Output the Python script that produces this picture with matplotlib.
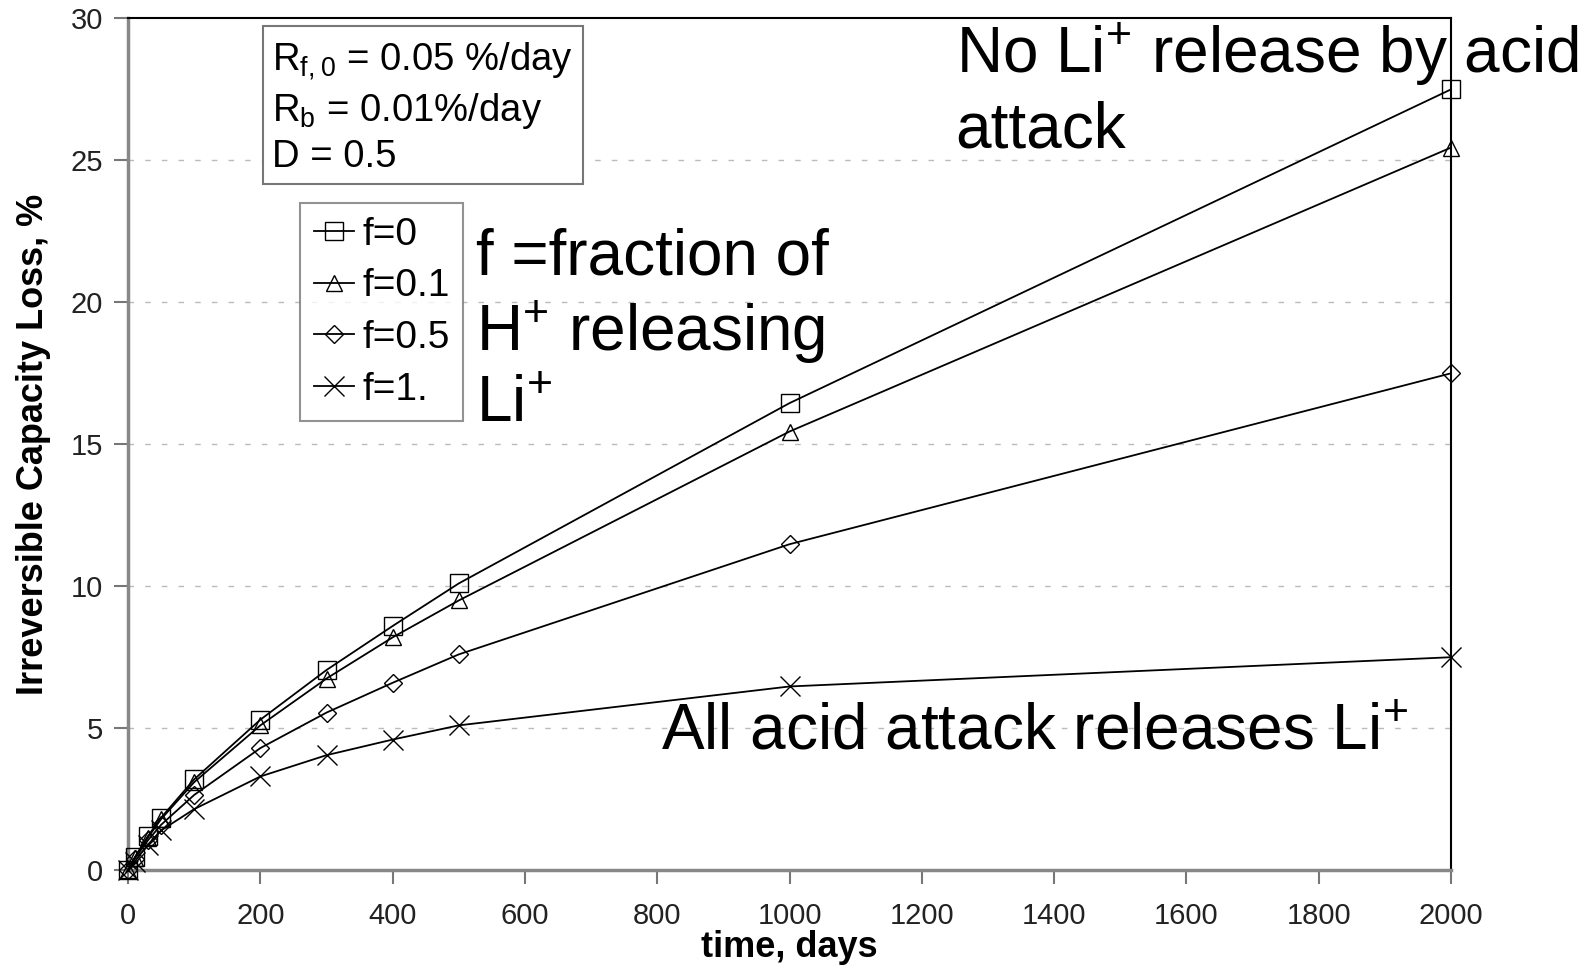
import matplotlib
matplotlib.use('Agg')
import matplotlib.pyplot as plt
from matplotlib import font_manager

# time points (days) and capacity loss (%) for each acid-attack fraction f
days = [0, 10, 30, 50, 100, 200, 300, 400, 500, 1000, 2000]
loss_f0 = [0, 0.45, 1.2, 1.85, 3.2, 5.3, 7.05, 8.6, 10.1, 16.45, 27.5]
loss_f01 = [0, 0.43, 1.15, 1.8, 3.1, 5.1, 6.75, 8.2, 9.5, 15.45, 25.45]
loss_f05 = [0, 0.4, 1.05, 1.6, 2.65, 4.3, 5.55, 6.6, 7.6, 11.48, 17.5]
loss_f1 = [0, 0.3, 0.9, 1.4, 2.15, 3.3, 4.05, 4.6, 5.1, 6.47, 7.5]

series_labels = ['f=0', 'f=0.1', 'f=0.5', 'f=1.']
series_markers = ['s', '^', 'D', 'x']

x_ticks = list(range(0, 2001, 200))
y_ticks = list(range(0, 31, 5))

params_text = ('$\\mathregular{R_{f,0}}$ = 0.05 %/day\n'
               '$\\mathregular{R_{b}}$ = 0.01%/day\n'
               'D = 0.5')

names = {f.name for f in font_manager.fontManager.ttflist}
narrow = 'Liberation Sans Narrow' if 'Liberation Sans Narrow' in names else 'Liberation Sans'

plt.rcParams['font.family'] = ['Liberation Sans', 'DejaVu Sans']

fig = plt.figure(figsize=(15.91, 9.69), dpi=100)
ax = fig.add_axes([0.0805, 0.102, 0.8315, 0.879])

all_loss = [loss_f0, loss_f01, loss_f05, loss_f1]
for vals, lab, mk in zip(all_loss, series_labels, series_markers):
    ms = {'s': 13, '^': 12, 'D': 9, 'x': 14}[mk]
    ax.plot(days, vals, color='black', lw=1.3, marker=mk, markersize=ms,
            markerfacecolor='none', markeredgecolor='black', markeredgewidth=1.0,
            label=lab, clip_on=False, zorder=3)

ax.set_xlim(0, 2000)
ax.set_ylim(0, 30)
ax.set_xticks(x_ticks)
ax.set_yticks(y_ticks)

# dashed horizontal grid, skipping the top border
for yv in y_ticks[1:-1]:
    ax.axhline(yv, color='#bbbbbb', lw=1.0, ls=(0, (4, 8)), zorder=0)

for side in ['left', 'bottom']:
    ax.spines[side].set_color('#888888')
    ax.spines[side].set_linewidth(2.5)
for side in ['top', 'right']:
    ax.spines[side].set_color('black')
    ax.spines[side].set_linewidth(1.5)

ax.tick_params(axis='both', direction='out', length=10, width=1.5, color='#777777',
               labelcolor='#222222', pad=8)
ax.tick_params(axis='x', pad=13)
for lbl in ax.get_xticklabels() + ax.get_yticklabels():
    lbl.set_fontfamily(narrow)
    lbl.set_fontsize(21)

ax.set_xlabel('time, days', fontsize=26, fontweight='bold', labelpad=0)
ax.set_ylabel('Irreversible Capacity Loss, %', fontsize=26, fontweight='bold', labelpad=14)

# parameter box
ax.text(0.109, 0.975, params_text, transform=ax.transAxes, fontsize=27.5,
        va='top', ha='left', linespacing=1.3,
        bbox=dict(boxstyle='square,pad=0.25', facecolor='white', edgecolor='#777777', lw=1.5))

leg = ax.legend(loc='upper left', bbox_to_anchor=(0.130, 0.783), fontsize=28,
                frameon=True, fancybox=False, edgecolor='#777777', handlelength=1.05,
                handletextpad=0.2, borderpad=0.35, labelspacing=0.4, borderaxespad=0)
leg.get_frame().set_linewidth(1.5)

# annotations
big = 46
ax.text(1251, 28.07, 'No Li$\\mathregular{^{+}}$ release by acid', fontsize=big, va='baseline')
ax.text(1251, 25.46, 'attack', fontsize=big, va='baseline')
ax.text(526, 20.99, 'f =fraction of', fontsize=big, va='baseline')
ax.text(526, 18.3, 'H$\\mathregular{^{+}}$ releasing', fontsize=big, va='baseline')
ax.text(526, 15.8, 'Li$\\mathregular{^{+}}$', fontsize=big, va='baseline')
ax.text(805, 4.25, 'All acid attack releases Li$\\mathregular{^{+}}$', fontsize=big, va='baseline')

fig.savefig('out.png', dpi=100)
